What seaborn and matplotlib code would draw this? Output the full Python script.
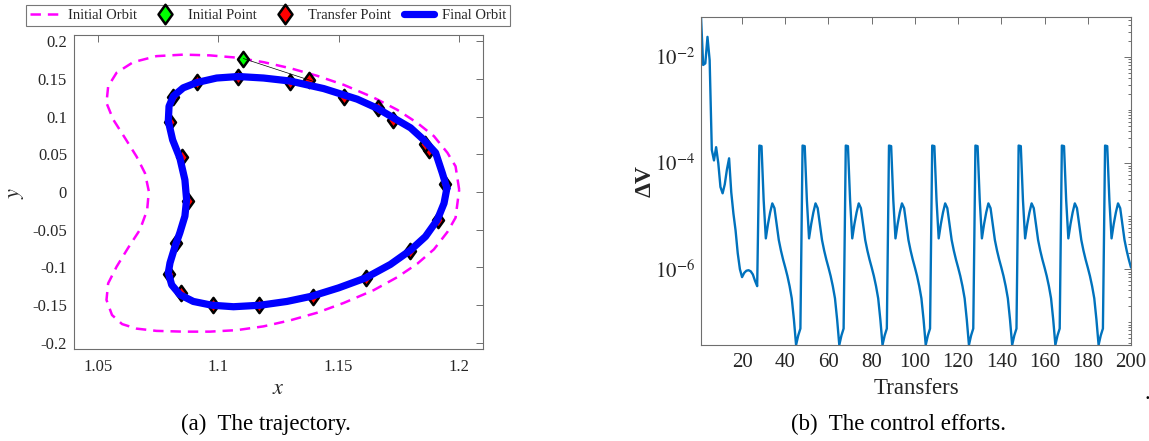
import numpy as np
import pandas as pd
import seaborn as sns
import matplotlib
matplotlib.use('Agg')
import matplotlib.pyplot as plt
from matplotlib.path import Path
from matplotlib.lines import Line2D
from matplotlib.ticker import FixedLocator, LogLocator, NullFormatter

# ---------------- data ----------------
# Initial orbit (magenta dashed)
init_x = [1.2001, 1.1986, 1.1952, 1.1896, 1.1827, 1.1743, 1.1646, 1.1521, 1.1410, 1.1299,
          1.1188, 1.1077, 1.0965, 1.0854, 1.0743, 1.0646, 1.0577, 1.0542, 1.0535, 1.0563,
          1.0611, 1.0660, 1.0695, 1.0711, 1.0704, 1.0674, 1.0625, 1.0577, 1.0542, 1.0535,
          1.0558, 1.0600, 1.0660, 1.0743, 1.0854, 1.0965, 1.1077, 1.1188, 1.1299, 1.1410,
          1.1521, 1.1646, 1.1743, 1.1827, 1.1896, 1.1952, 1.1986, 1.2001]
init_y = [0.003, 0.034, 0.052, 0.074, 0.0915, 0.109, 0.125, 0.142, 0.154, 0.164,
          0.172, 0.178, 0.181, 0.182, 0.180, 0.172, 0.158, 0.140, 0.118, 0.096,
          0.072, 0.047, 0.025, 0.001, -0.024, -0.050, -0.074, -0.099, -0.121, -0.143,
          -0.163, -0.175, -0.181, -0.184, -0.185, -0.185, -0.183, -0.178, -0.170, -0.160,
          -0.147, -0.130, -0.113, -0.095, -0.076, -0.053, -0.034, 0.003]

# Final orbit (blue)
final_x = [1.1950, 1.1931, 1.1903, 1.1854, 1.1799, 1.1729, 1.1660, 1.1577, 1.1438, 1.1299,
           1.1188, 1.1083, 1.0993, 1.0910, 1.0854, 1.0813, 1.0795, 1.0792, 1.0810, 1.0840,
           1.0861, 1.0868, 1.0861, 1.0840, 1.0820, 1.0799, 1.0792, 1.0806, 1.0840, 1.0896,
           1.0973, 1.1063, 1.1174, 1.1285, 1.1389, 1.1500, 1.1611, 1.1715, 1.1799, 1.1861,
           1.1910, 1.1938, 1.1950]
final_y = [0.005, 0.025, 0.052, 0.069, 0.085, 0.098, 0.111, 0.123, 0.137, 0.147,
           0.151, 0.153, 0.151, 0.145, 0.138, 0.127, 0.1135, 0.094, 0.069, 0.045,
           0.016, -0.010, -0.032, -0.054, -0.072, -0.094, -0.107, -0.123, -0.136, -0.145,
           -0.150, -0.152, -0.150, -0.145, -0.138, -0.127, -0.114, -0.096, -0.077, -0.059,
           -0.037, -0.015, 0.005]

# Initial point (green) and transfer points (red)
start_x = [1.1104]
start_y = [0.1768]
transfer_x = [1.1378, 1.1296, 1.1083, 1.0911, 1.0813, 1.0799, 1.0847, 1.0872, 1.0824, 1.0796,
              1.0845, 1.0977, 1.1171, 1.1393, 1.1613, 1.1796, 1.1914, 1.1940, 1.1875, 1.1858,
              1.1727, 1.1663, 1.1524]
transfer_y = [0.148, 0.1459, 0.1525, 0.1454, 0.126, 0.0923, 0.0464, -0.0115, -0.0676, -0.1088,
              -0.134, -0.1495, -0.1495, -0.1385, -0.1141, -0.0778, -0.0367, 0.011, 0.0561, 0.064,
              0.0959, 0.1114, 0.126]
link_x = [1.1104, 1.1400]
link_y = [0.1768, 0.1460]

# Control effort per transfer (log10 of Delta V)
dv_log10 = (
    [-1.24, -2.15, -2.12, -1.62, -2.06, -3.75, -3.95, -3.70, -4.00, -4.45,
     -4.57, -4.40, -4.12, -3.91, -4.55, -4.95, -5.27, -5.70, -6.00, -6.15,
     -6.07, -6.03, -6.02, -6.04, -6.10, -6.22, -6.32]
    + [-3.67, -3.68, -4.70, -5.42, -5.15, -4.93, -4.76, -4.85, -5.15, -5.45,
       -5.65, -5.82, -5.97, -6.13, -6.32, -6.55, -6.95, -7.43, -7.25, -7.12]
    + [-3.67, -3.68, -4.70, -5.42, -5.15, -4.93, -4.76, -4.85, -5.15, -5.45,
       -5.65, -5.82, -5.97, -6.13, -6.32, -6.55, -6.95, -7.43, -7.25, -7.12]
    + [-3.67, -3.68, -4.70, -5.42, -5.15, -4.93, -4.76, -4.85, -5.15, -5.45,
       -5.65, -5.82, -5.97, -6.13, -6.32, -6.55, -6.95, -7.43, -7.25, -7.12]
    + [-3.67, -3.68, -4.70, -5.42, -5.15, -4.93, -4.76, -4.85, -5.15, -5.45,
       -5.65, -5.82, -5.97, -6.13, -6.32, -6.55, -6.95, -7.43, -7.25, -7.12]
    + [-3.67, -3.68, -4.70, -5.42, -5.15, -4.93, -4.76, -4.85, -5.15, -5.45,
       -5.65, -5.82, -5.97, -6.13, -6.32, -6.55, -6.95, -7.43, -7.25, -7.12]
    + [-3.67, -3.68, -4.70, -5.42, -5.15, -4.93, -4.76, -4.85, -5.15, -5.45,
       -5.65, -5.82, -5.97, -6.13, -6.32, -6.55, -6.95, -7.43, -7.25, -7.12]
    + [-3.67, -3.68, -4.70, -5.42, -5.15, -4.93, -4.76, -4.85, -5.15, -5.45,
       -5.65, -5.82, -5.97, -6.13, -6.32, -6.55, -6.95, -7.43, -7.25, -7.12]
    + [-3.67, -3.68, -4.70, -5.42, -5.15, -4.93, -4.76, -4.85, -5.15, -5.45,
       -5.65, -5.82, -5.97, -6.13, -6.32, -6.55, -6.95, -7.43, -7.25, -7.12]
    + [-3.67, -3.68, -4.70, -5.42, -5.15, -4.93, -4.76, -4.85, -5.15, -5.45,
       -5.65, -5.82, -5.97]
)
transfers = list(range(1, len(dv_log10) + 1))

x_ticks = [1.05, 1.1, 1.15, 1.2]
x_ticklabels = ['1.05', '1.1', '1.15', '1.2']
y_ticks = [-0.2, -0.15, -0.1, -0.05, 0, 0.05, 0.1, 0.15, 0.2]
y_ticklabels = ['-0.2', '-0.15', '-0.1', '-0.05', '0', '0.05', '0.1', '0.15', '0.2']
t_ticks = [20, 40, 60, 80, 100, 120, 140, 160, 180, 200]
dv_ticks = [1e-6, 1e-4, 1e-2]
dv_ticklabels = [r'$10^{-6}$', r'$10^{-4}$', r'$10^{-2}$']

legend_labels = ['Initial Orbit', 'Initial Point', 'Transfer Point', 'Final Orbit']

# ---------------- style ----------------
sns.set_theme(style='white')
plt.rcParams['font.family'] = ['Liberation Serif', 'DejaVu Serif']
plt.rcParams['mathtext.fontset'] = 'stix'
plt.rcParams['axes.unicode_minus'] = False
plt.rcParams['lines.scale_dashes'] = False

AX_COL = '#6e6e6e'
TXT_COL = '#262626'

fig = plt.figure(figsize=(11.49, 4.41), dpi=100)
W, H = 1149.0, 441.0
ax1 = fig.add_axes([74 / W, 1 - 349 / H, (483 - 74) / W, (349 - 35) / H])
ax2 = fig.add_axes([701 / W, 1 - 345 / H, (1131 - 701) / W, (345 - 16.7) / H])

diamond = Path([(0, 1), (0.72, 0), (0, -1), (-0.72, 0), (0, 1)],
               [Path.MOVETO, Path.LINETO, Path.LINETO, Path.LINETO, Path.CLOSEPOLY])

# ---------------- left: trajectory ----------------
df_init = pd.DataFrame({'x': init_x, 'y': init_y})
df_final = pd.DataFrame({'x': final_x, 'y': final_y})
df_tr = pd.DataFrame({'x': transfer_x, 'y': transfer_y})
df_st = pd.DataFrame({'x': start_x, 'y': start_y})
df_link = pd.DataFrame({'x': link_x, 'y': link_y})

sns.lineplot(data=df_init, x='x', y='y', sort=False, estimator=None, ax=ax1,
             color='#FF00FF', linewidth=1.8, linestyle=(0, (7.5, 5)), zorder=1)
sns.scatterplot(data=df_st, x='x', y='y', ax=ax1, marker=diamond, s=120,
                color='#00FF00', edgecolor='black', linewidth=1.8, zorder=2)
sns.scatterplot(data=df_tr, x='x', y='y', ax=ax1, marker=diamond, s=120,
                color='#FF0000', edgecolor='black', linewidth=1.8, zorder=2)
sns.lineplot(data=df_final, x='x', y='y', sort=False, estimator=None, ax=ax1,
             color='#0000FF', linewidth=5.2, zorder=3)
sns.lineplot(data=df_link, x='x', y='y', sort=False, estimator=None, ax=ax1,
             color='black', linewidth=0.5, zorder=4)

ax1.set_xlim(1.04, 1.21)
ax1.set_ylim(-0.208, 0.208)
ax1.xaxis.set_major_locator(FixedLocator(x_ticks))
ax1.set_xticklabels(x_ticklabels)
ax1.yaxis.set_major_locator(FixedLocator(y_ticks))
ax1.set_yticklabels(y_ticklabels)
ax1.set_xlabel(r'$x$', fontsize=16, color=TXT_COL)
ax1.set_ylabel(r'$y$', fontsize=16, color=TXT_COL)
ax1.xaxis.set_label_coords(0.5, (349 - 389) / 314.0)
ax1.xaxis.label.set_va('center')
ax1.yaxis.set_label_coords((16 - 74) / 409.0, (349 - 193) / 314.0)
ax1.yaxis.label.set_va('center')

# ---------------- right: control effort ----------------
df_dv = pd.DataFrame({'Transfers': transfers, 'dv': [10.0 ** v for v in dv_log10]})
sns.lineplot(data=df_dv, x='Transfers', y='dv', ax=ax2, color='#0072BD', linewidth=1.7)
ax2.set_yscale('log')
ax2.set_xlim(1, 200)
ax2.set_ylim(10 ** -7.43, 10 ** -1.24)
ax2.xaxis.set_major_locator(FixedLocator(t_ticks))
ax2.yaxis.set_major_locator(FixedLocator(dv_ticks))
ax2.set_yticklabels(dv_ticklabels)
ax2.yaxis.set_minor_locator(LogLocator(base=10, subs=np.arange(1, 10), numticks=30))
ax2.yaxis.set_minor_formatter(NullFormatter())
ax2.set_xlabel('Transfers', fontsize=16.5, color=TXT_COL)
ax2.set_ylabel('ΔV', fontsize=17, fontweight='bold', color=TXT_COL)
ax2.xaxis.set_label_coords(0.5, (345 - 389) / 328.3)
ax2.xaxis.label.set_va('center')
ax2.yaxis.set_label_coords((645 - 701) / 430.0, (345 - 181) / 328.3)
ax2.yaxis.label.set_va('center')

for ax, fs, xpad, ypad in ((ax1, 12, 7.0, 5.0), (ax2, 15, 6.0, 4.5)):
    for sp in ax.spines.values():
        sp.set_visible(True)
        sp.set_color(AX_COL)
        sp.set_linewidth(0.8)
    ax.tick_params(which='both', direction='in', top=True, right=True,
                   color=AX_COL, width=0.7, labelcolor=TXT_COL, labelsize=fs)
    ax.tick_params(axis='x', which='major', length=5, pad=xpad)
    ax.tick_params(axis='y', which='major', length=5, pad=ypad)
    ax.tick_params(which='minor', length=2.5)
    ax.grid(False)

# ---------------- legend ----------------
handles = [
    Line2D([], [], color='#FF00FF', linewidth=1.8, linestyle=(0, (7.5, 5))),
    Line2D([], [], linestyle='None', marker=diamond, markersize=14,
           markerfacecolor='#00FF00', markeredgecolor='black', markeredgewidth=1.8),
    Line2D([], [], linestyle='None', marker=diamond, markersize=14,
           markerfacecolor='#FF0000', markeredgecolor='black', markeredgewidth=1.8),
    Line2D([], [], color='#0000FF', linewidth=5.2),
]
leg = fig.legend(handles, legend_labels, ncol=4, loc='center',
                 bbox_to_anchor=(268 / W, 1 - 15.3 / H), fontsize=10.5,
                 frameon=True, fancybox=False, edgecolor='#555555',
                 borderpad=0.25, handlelength=2.1, handletextpad=0.5,
                 columnspacing=0.9, borderaxespad=0)
leg.get_frame().set_linewidth(0.8)
for t in leg.get_texts():
    t.set_color(TXT_COL)

# ---------------- captions ----------------
fig.text(266 / W, 1 - 424 / H, '(a)  The trajectory.', ha='center', va='center',
         fontsize=16.5, color='black')
fig.text(899 / W, 1 - 424 / H, '(b)  The control efforts.', ha='center', va='center',
         fontsize=16.5, color='black')
fig.text(1147 / W, 1 - 399 / H, '.', ha='center', va='baseline', fontsize=16, color='black')

fig.savefig('out.png', dpi=100)
